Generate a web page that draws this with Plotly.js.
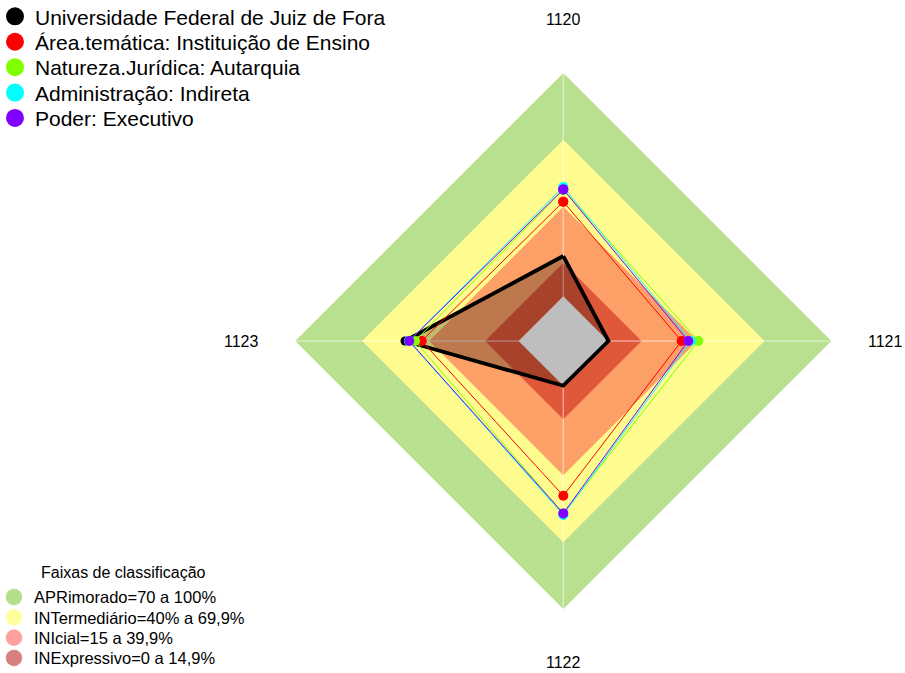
<!DOCTYPE html>
<html>
<head>
<meta charset="utf-8">
<script src="https://cdn.plot.ly/plotly-3.0.1.min.js"></script>
<style>html,body{margin:0;padding:0;background:#fff;}#chart{width:905px;height:673px;}</style>
</head>
<body>
<div id="chart"></div>
<script>
// ---- data ----
const categories = ['1120', '1121', '1122', '1123'];
const seriesNames = [
  'Universidade Federal de Juiz de Fora',
  'Área.temática: Instituição de Ensino',
  'Natureza.Jurídica: Autarquia',
  'Administração: Indireta',
  'Poder: Executivo'
];
const ufjf      = [18.0, 0.2, 0.0, 50.8];
const areaTem   = [42.3, 32.9, 49.2, 43.3];
const natureza  = [47.6, 40.4, 57.2, 46.3];
const adminInd  = [48.9, 37.0, 57.8, 49.1];
const poderExec = [47.8, 35.9, 57.1, 48.9];
const seriesValues = [ufjf, areaTem, natureza, adminInd, poderExec];

const bandNames = ['APRimorado=70 a 100%', 'INTermediário=40% a 69,9%', 'INIcial=15 a 39,9%', 'INExpressivo=0 a 14,9%'];
const bandUpper = [100, 70, 40, 15];
const baseLevel = 0;
const legendTitle = 'Faixas de classificação';

// ---- styles ----
const seriesColors = ['#000000', '#ff0000', '#80ff00', '#00ffff', '#8000ff'];
const bandFill = ['#b9e08e', '#fffc8f', '#fca068', '#e0583a'];
const bandLegend = ['#b5de8a', '#ffff9e', '#ffa0a0', '#d88080'];
const rMin = -20, rMax = 100;
const W = 905, H = 673;
const M = {l: 0, r: 0, t: 0, b: 0, autoexpand: false};
const px2x = px => (px - M.l) / (W - M.l - M.r);
const px2y = py => (H - M.b - py) / (H - M.t - M.b);

const closeIt = a => a.concat([a[0]]);
const thetaClosed = closeIt(categories);
const traces = [];

// bands
bandUpper.forEach((u, i) => {
  traces.push({
    type: 'scatterpolar', mode: 'lines', r: closeIt(categories.map(() => u)), theta: thetaClosed,
    fill: 'toself', fillcolor: bandFill[i], line: {width: 0, color: bandFill[i]},
    showlegend: false, hoverinfo: 'skip'
  });
});
// spokes
const spokeR = [], spokeT = [];
categories.forEach(c => { spokeR.push(rMin, rMax, null); spokeT.push(c, c, null); });
traces.push({
  type: 'scatterpolar', mode: 'lines', r: spokeR, theta: spokeT,
  line: {color: 'rgba(255,255,255,0.45)', width: 1.5}, showlegend: false, hoverinfo: 'skip'
});
// UFJF translucent fill
traces.push({
  type: 'scatterpolar', mode: 'lines', r: closeIt(ufjf), theta: thetaClosed,
  fill: 'toself', fillcolor: 'rgba(0,0,0,0.25)', line: {width: 0, color: 'rgba(0,0,0,0)'},
  showlegend: false, hoverinfo: 'skip'
});
// grey core
traces.push({
  type: 'scatterpolar', mode: 'lines', r: closeIt(categories.map(() => baseLevel)), theta: thetaClosed,
  fill: 'toself', fillcolor: '#bebebe', line: {width: 0, color: '#bebebe'},
  showlegend: false, hoverinfo: 'skip'
});
// series
seriesValues.forEach((vals, i) => {
  const isMain = i === 0;
  traces.push({
    type: 'scatterpolar', mode: 'lines+markers', name: seriesNames[i],
    r: closeIt(vals), theta: thetaClosed,
    line: {color: seriesColors[i], width: isMain ? 3.8 : 1},
    marker: {color: seriesColors[i], size: isMain ? 9 : 10},
    showlegend: false, legendgroup: 'g' + i
  });
});

// legends: one legend box per entry so that rows can be spaced like the reference
const legendLayouts = {};
let legendIdx = 0;
const legendKey = () => { legendIdx += 1; return legendIdx === 1 ? 'legend' : 'legend' + legendIdx; };
seriesNames.forEach((n, i) => {
  const key = legendKey();
  traces.push({
    type: 'scatterpolar', mode: 'markers', name: n, r: [null], theta: [null],
    marker: {color: seriesColors[i], size: 16, line: {color: seriesColors[i], width: 2}},
    legend: key, legendgroup: 'g' + i, showlegend: true
  });
  legendLayouts[key] = {
    x: px2x(-5), y: px2y(16.7 + 25.4 * i), xanchor: 'left', yanchor: 'middle',
    bgcolor: 'rgba(0,0,0,0)', font: {size: 21, color: '#000'}
  };
});
bandNames.forEach((n, i) => {
  const key = legendKey();
  traces.push({
    type: 'scatterpolar', mode: 'markers', name: n, r: [null], theta: [null],
    marker: {color: bandLegend[i], size: 16, line: {color: bandLegend[i], width: 0.5}},
    legend: key, showlegend: true
  });
  legendLayouts[key] = {
    x: px2x(-6), y: px2y(597.3 + 20.3 * i), xanchor: 'left', yanchor: 'middle',
    bgcolor: 'rgba(0,0,0,0)', font: {size: 16.5, color: '#000'}
  };
});

// geometry of polar area (pixels)
const cx = 563.3, cy = 341, R = 268.3;
const dom = {x: [px2x(cx - R), px2x(cx + R)], y: [px2y(cy + R), px2y(cy - R)]};
const labR = R * 1.2;
const annotations = categories.map((c, i) => {
  const ang = Math.PI / 2 - i * 2 * Math.PI / categories.length;
  return {
    text: c, xref: 'paper', yref: 'paper',
    x: px2x(cx + labR * Math.cos(ang)), y: px2y(cy - labR * Math.sin(ang)),
    xanchor: 'center', yanchor: 'middle', showarrow: false,
    font: {size: 16, color: '#000'}
  };
});
annotations.push({
  text: legendTitle, xref: 'paper', yref: 'paper', x: px2x(124), y: px2y(572),
  xanchor: 'center', yanchor: 'middle', showarrow: false, font: {size: 16, color: '#000'}
});

const layout = Object.assign({
  width: W, height: H,
  margin: M,
  paper_bgcolor: '#fff',
  font: {family: 'Liberation Sans, Arial, sans-serif', color: '#000'},
  polar: {
    domain: dom, bgcolor: 'rgba(0,0,0,0)', gridshape: 'linear',
    radialaxis: {range: [rMin, rMax], visible: true, showgrid: false, showline: false, showticklabels: false, ticks: ''},
    angularaxis: {type: 'category', categoryarray: categories, rotation: 90, direction: 'clockwise',
      showgrid: false, showline: false, showticklabels: false, ticks: ''}
  },
  showlegend: true,
  annotations: annotations
}, legendLayouts);

Plotly.newPlot('chart', traces, layout, {displayModeBar: false, staticPlot: true});
</script>
</body>
</html>
